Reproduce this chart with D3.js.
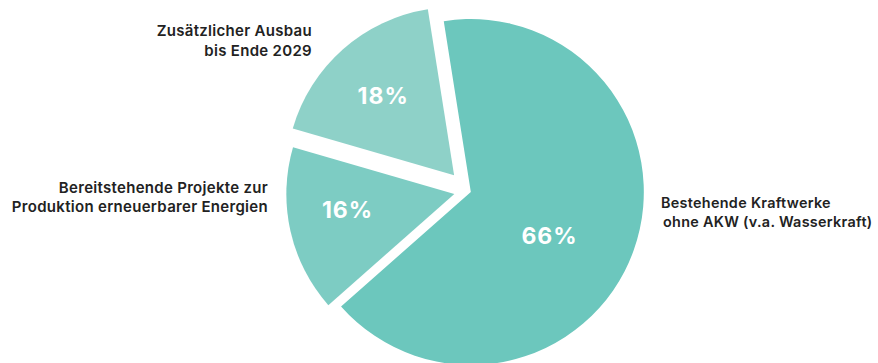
<!DOCTYPE html>
<html>
<head>
<meta charset="utf-8">
<script src="https://cdn.jsdelivr.net/npm/d3@7"></script>
<style>
  body { margin: 0; background: #fff; }
  svg { display: block; }
  .lbl { font-family: Inter, "Open Sans", sans-serif; font-weight: 600; font-size: 15px; fill: #222; letter-spacing: 0.3px; }
  .pct { font-family: Inter, "Open Sans", sans-serif; font-weight: 700; font-size: 23px; fill: #fff; letter-spacing: 1px; }
</style>
</head>
<body>
<div class="chart"></div>
<script>
/// data

const categories = [
    ['Bestehende Kraftwerke', 'ohne AKW (v.a. Wasserkraft)'],
    ['Bereitstehende Projekte zur', 'Produktion erneuerbarer Energien'],
    ['Zusätzlicher Ausbau', 'bis Ende 2029']
];
const shares = [66, 16, 18];
const pctLabels = ['66%', '16%', '18%'];

const colors = ['#6cc7bd', '#7dccc3', '#8ed1c8'];

//// layout stuff

const w = 878, h = 363;
const cx = 468, cy = 191;
const radii = [173, 168, 168];      // big slice a bit bigger
const explode = [3, 14, 21];        // offset along bisector
const labelPos = [[90, 0.16], [108, 0.072], [106, -0.01]]; // radius, angle nudge

const svg = d3.select('.chart')
    .append('svg')
    .attr('width', w)
    .attr('height', h);

const deg = Math.PI / 180;

const pie = d3.pie()
    .sort(null)
    .startAngle(-9 * deg)
    .endAngle(351 * deg);

const arcs = pie(shares);

const plot = svg.append('g')
    .attr('transform', `translate(${cx},${cy})`);

const slices = plot.selectAll('.slice')
    .data(arcs)
    .enter()
    .append('g')
    .attr('class', 'slice')
    .attr('transform', (d, i) => {
        const a = (d.startAngle + d.endAngle) / 2;
        return `translate(${Math.sin(a) * explode[i]}, ${-Math.cos(a) * explode[i]})`;
    });

slices.append('path')
    .attr('d', (d, i) => d3.arc().innerRadius(0).outerRadius(radii[i])(d))
    .style('fill', (d, i) => colors[i]);

slices.append('text')
    .attr('class', 'pct')
    .attr('text-anchor', 'middle')
    .attr('x', (d, i) => Math.sin((d.startAngle + d.endAngle) / 2 + labelPos[i][1]) * labelPos[i][0])
    .attr('y', (d, i) => -Math.cos((d.startAngle + d.endAngle) / 2 + labelPos[i][1]) * labelPos[i][0])
    .attr('dy', '0.35em')
    .text((d, i) => pctLabels[i]);

// outside labels
const outside = [
    {x: 661, y: 208, anchor: 'start', size: 14.4, indent: 2},
    {x: 268, y: 193, anchor: 'end', size: 15, indent: 0},
    {x: 312, y: 36, anchor: 'end', size: 15, indent: 0}
];

categories.forEach((lines, i) => {
    const o = outside[i];
    const t = svg.append('text')
        .attr('class', 'lbl')
        .attr('text-anchor', o.anchor)
        .style('font-size', o.size + 'px')
        .attr('x', o.x)
        .attr('y', o.y);
    lines.forEach((l, j) => {
        t.append('tspan')
            .attr('x', o.x + (j == 0 ? 0 : o.indent))
            .attr('dy', j == 0 ? 0 : (i == 2 ? 20 : 19))
            .text(l);
    });
});
</script>
</body>
</html>
